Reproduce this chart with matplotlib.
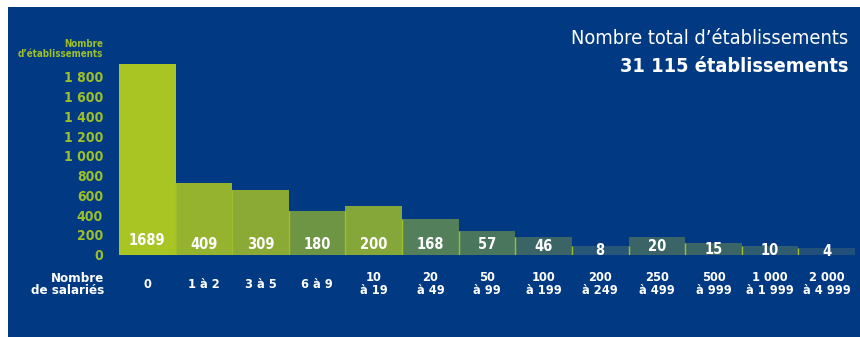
import matplotlib
matplotlib.use("Agg")
import matplotlib.pyplot as plt
from matplotlib.font_manager import findfont, FontProperties
import numpy as np

# data
categories = ["0", "1 à 2", "3 à 5", "6 à 9", "10\nà 19", "20\nà 49", "50\nà 99",
              "100\nà 199", "200\nà 249", "250\nà 499", "500\nà 999",
              "1 000\nà 1 999", "2 000\nà 4 999"]
bar_heights = [1935, 722, 651, 439, 489, 358, 236, 175, 84, 175, 114, 84, 64]
bar_labels = ["1689", "409", "309", "180", "200", "168", "57", "46", "8",
              "20", "15", "10", "4"]
bar_colors = ["#a8c523", "#95b32e", "#8aa935", "#6e9544", "#85a739", "#53805a",
              "#4a765e", "#3a6466", "#285676", "#3a6466", "#3a6466", "#2f5c6e",
              "#22507a"]
yticks = [0, 200, 400, 600, 800, 1000, 1200, 1400, 1600, 1800]
ytick_labels = ["0", "200", "400", "600", "800", "1 000", "1 200", "1 400",
                "1 600", "1 800"]

BG = "#013a82"
GREEN = "#9dbf2a"

plt.rcParams["font.family"] = ["DejaVu Sans"]
path = findfont(FontProperties(family="DejaVu Sans", stretch="condensed", weight="bold"))
if "Condensed" in path:
    plt.rcParams["font.stretch"] = "condensed"

W, H = 860, 337
fig = plt.figure(figsize=(W / 100, H / 100), dpi=100, facecolor="white")
# blue panel
fig.patches.append(plt.Rectangle((8 / W, 0), 1, 1 - 7 / H, transform=fig.transFigure,
                                 facecolor=BG, edgecolor="none", zorder=-10))

ax = fig.add_axes([119 / W, 82.5 / H, 736 / W, 197.4 / H])
ax.set_facecolor("none")
x = np.arange(len(categories))
ax.bar(x, bar_heights, width=1.0, color=bar_colors, edgecolor="none", zorder=2)

# thin bright separators between neighbouring bars
for i in range(1, len(x)):
    ax.vlines(i - 0.5, 0, min(bar_heights[i - 1], bar_heights[i]), color=GREEN,
              linewidth=1.0, zorder=3)

for i, (h, lab) in enumerate(zip(bar_heights, bar_labels)):
    yy = 140 if i == 0 else min(105, 0.45 * h)
    ax.text(i, yy, lab, ha="center", va="center", color="white",
            fontsize=10.5, fontweight="bold", zorder=4)

ax.set_xlim(-0.5, len(x) - 0.5)
ax.set_ylim(0, 2000)
ax.set_yticks(yticks)
ax.set_yticklabels(ytick_labels)
ax.tick_params(axis="y", length=0, pad=11.5, colors=GREEN, labelsize=10)
for t in ax.get_yticklabels():
    t.set_fontweight("bold")
ax.set_xticks([])
for s in ax.spines.values():
    s.set_visible(False)

# category labels under bars
for i, c in enumerate(categories):
    ax.text(i, -300, c, ha="center", va="center", color="white", fontsize=9.2,
            fontweight="bold", linespacing=0.95, clip_on=False)

fig.text(104 / W, 1 - 284.5 / H, "Nombre\nde salariés", ha="right", va="center",
         color="white", fontsize=9.5, fontweight="bold", linespacing=0.85)
fig.text(103 / W, 1 - 49 / H, "Nombre\nd\u2019établissements", ha="right",
         va="center", color=GREEN, fontsize=7, fontweight="bold", linespacing=1.0)

fig.text(848 / W, 1 - 39 / H, "Nombre total d\u2019établissements", ha="right",
         va="center", color="white", fontsize=14.3)
fig.text(848 / W, 1 - 66 / H, "31 115 établissements", ha="right", va="center",
         color="white", fontsize=14.3, fontweight="bold")

fig.savefig("out.png", dpi=100, facecolor=fig.get_facecolor())
